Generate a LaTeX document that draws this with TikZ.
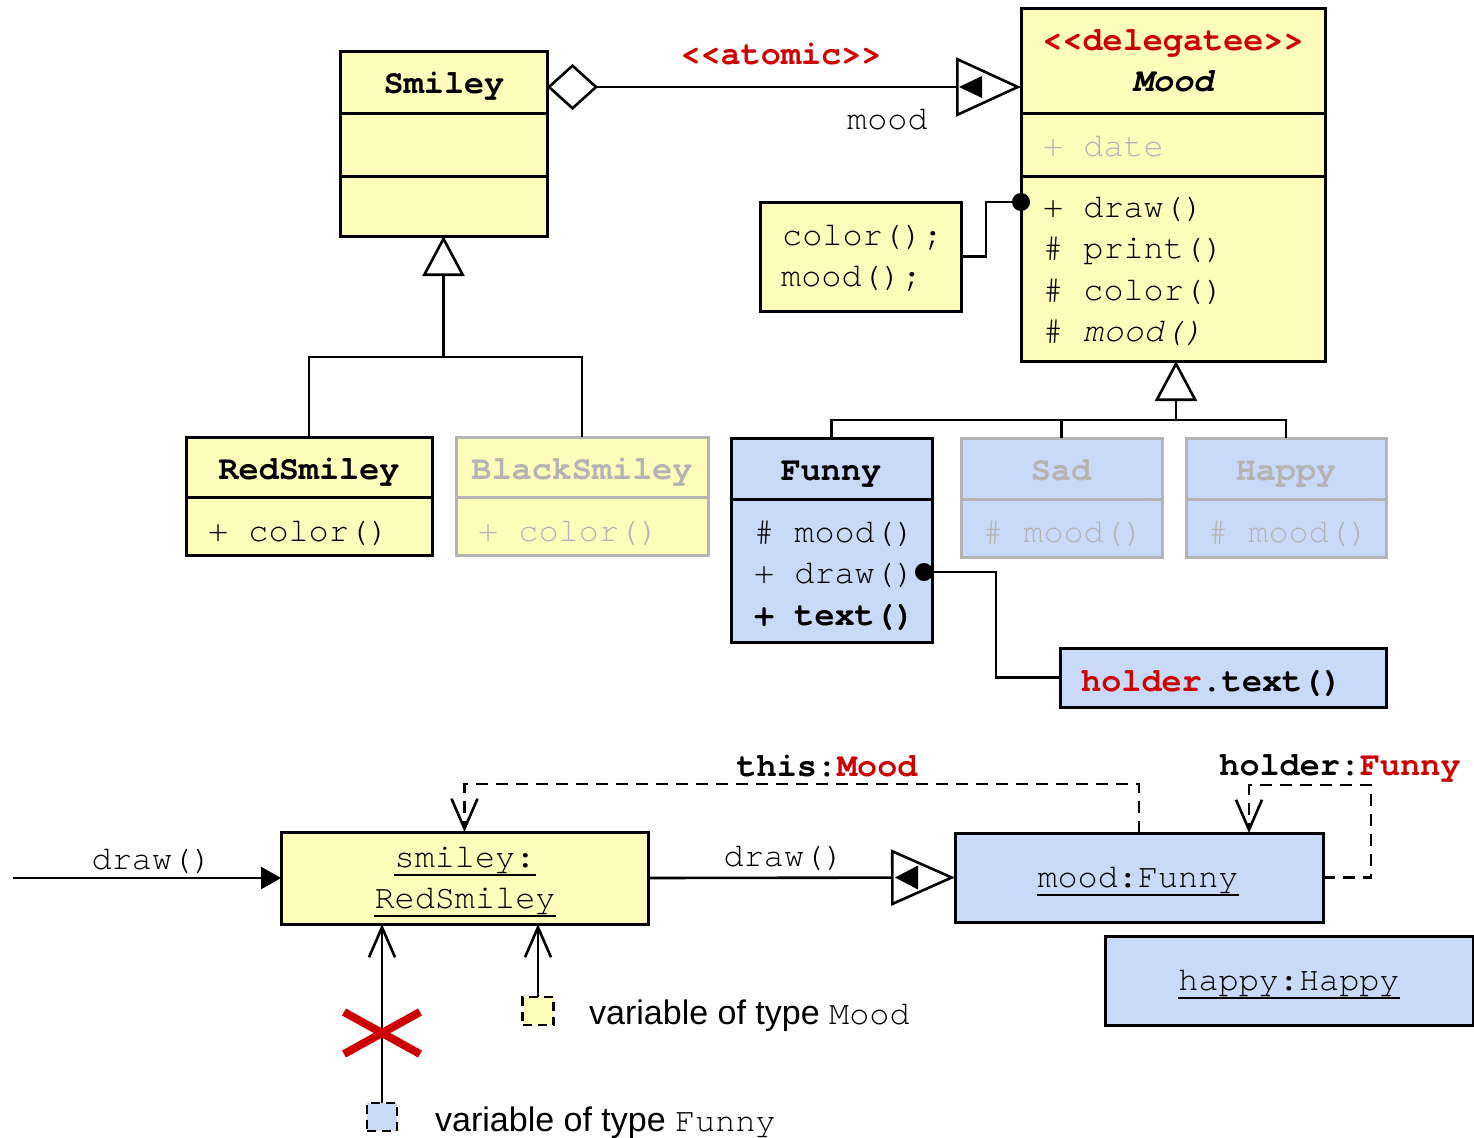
\documentclass[tikz,border=0pt]{standalone}
\usepackage{fontspec}
\setmainfont{Liberation Sans}
\setsansfont{Liberation Sans}
\setmonofont{TeX Gyre Cursor}
\usetikzlibrary{arrows.meta,calc}
\definecolor{ylw}{RGB}{252,252,187}
\definecolor{blu}{RGB}{201,218,248}
\definecolor{gry}{RGB}{180,180,180}
\definecolor{rd}{RGB}{204,0,0}
\tikzset{
  ybox/.style={draw, line width=3pt, fill=ylw, inner sep=0pt, outer sep=0pt, anchor=north west},
  bbox/.style={ybox, fill=blu},
  gybox/.style={ybox, draw=gry},
  gbbox/.style={bbox, draw=gry},
  mono/.style={font=\ttfamily\fontsize{33.5}{40}\selectfont, inner sep=0pt},
  mbold/.style={font=\ttfamily\bfseries\fontsize{33.5}{40}\selectfont, inner sep=0pt},
  sline/.style={line width=3pt},
  conn/.style={line width=2.6pt},
  gen/.style={conn, -{Triangle[fill=white, length=40pt, width=42pt]}},
  openarr/.style={conn, -{Straight Barb[length=30pt, width=26pt]}},
  dep/.style={conn, dash pattern=on 12pt off 8pt, -{Straight Barb[length=30pt, width=26pt]}},
  ul/.style={line width=2pt},
}
\begin{document}
\begin{tikzpicture}[x=1pt,y=-1pt]
\useasboundingbox (0,0) rectangle (1474,1137);

% ---------- Smiley ----------
\node[ybox, minimum width=207pt, minimum height=184pt] (smiley) at (340,52) {};
\draw[sline] ($(smiley.north west)+(0,62)$) -- ($(smiley.north east)+(0,62)$);
\draw[sline] ($(smiley.north west)+(0,124)$) -- ($(smiley.north east)+(0,124)$);
\node[mbold, anchor=base] (smileyT) at (444,94) {Smiley};

% ---------- Mood ----------
\node[ybox, minimum width=304pt, minimum height=352pt] (mood) at (1021,9) {};
\draw[sline] ($(mood.north west)+(0,105)$) -- ($(mood.north east)+(0,105)$);
\draw[sline] ($(mood.north west)+(0,167)$) -- ($(mood.north east)+(0,167)$);
\node[mbold, anchor=base, text=rd] (moodS) at (1173,51) {<{}<delegatee>{}>};
\node[mbold, anchor=base, font=\ttfamily\bfseries\itshape\fontsize{33.5}{40}\selectfont] (moodT) at (1173,92) {Mood};
\node[mono, anchor=base west, text=gry] (moodA) at (1043,157) {+ date};
\node[mono, anchor=base west] (moodM1) at (1043,217) {+ draw()};
\node[mono, anchor=base west] (moodM2) at (1043,258) {\# print()};
\node[mono, anchor=base west] (moodM3) at (1043,300) {\# color()};
\node[mono, anchor=base west] (moodM4) at (1043,341) {\# {\itshape mood()}};

% ---------- aggregation / navigation ----------
\coordinate (aggS) at ($(smiley.north east)+(0,35)$);
\coordinate (aggT) at (mood.west |- aggS);
\draw[conn, {Diamond[fill=white, length=51pt, width=46pt]}-{Triangle[fill=white, length=65pt, width=59pt]}] (aggS) -- (aggT);
\fill ($(aggT)+(-62,0)$) -- ++(23,-11) -- ++(0,22) -- cycle;
\node[mbold, anchor=base, text=rd] (atomic) at (781,65) {<{}<atomic>{}>};
\node[mono, anchor=base west] (roleMood) at (847,130) {mood};

% ---------- note ----------
\node[ybox, minimum width=201pt, minimum height=109pt] (note) at (760,202) {};
\node[mono, anchor=base west] (note1) at (782,245) {color();};
\node[mono, anchor=base west] (note2) at (781,286) {mood();};
\coordinate (dot1) at (1021,202);
\draw[conn] (note.east) -- ++(25,0) |- (dot1);
\fill (dot1) circle (9pt);

% ---------- RedSmiley / BlackSmiley ----------
\node[ybox, minimum width=246pt, minimum height=118pt] (red) at (186,437) {};
\draw[sline] ($(red.north west)+(0,60)$) -- ($(red.north east)+(0,60)$);
\node[mbold, anchor=base] (redT) at (309,479) {RedSmiley};
\node[mono, anchor=base west] (redM) at (208,541) {+ color()};

\node[gybox, minimum width=252pt, minimum height=118pt] (black) at (456,437) {};
\draw[sline, gry] ($(black.north west)+(0,60)$) -- ($(black.north east)+(0,60)$);
\node[mbold, anchor=base, text=gry] (blackT) at (582,479) {BlackSmiley};
\node[mono, anchor=base west, text=gry] (blackM) at (478,541) {+ color()};

\coordinate (j1) at (smiley.south |- 0,357);
\draw[gen] (j1) -- (smiley.south);
\draw[conn] (red.north) |- (j1) -| (black.north);

% ---------- Funny / Sad / Happy ----------
\node[bbox, minimum width=201pt, minimum height=204pt] (funny) at (731,438) {};
\draw[sline] ($(funny.north west)+(0,61)$) -- ($(funny.north east)+(0,61)$);
\node[mbold, anchor=base] (funnyT) at (831,480) {Funny};
\node[mono, anchor=base west] (funnyM1) at (754,542) {\# mood()};
\node[mono, anchor=base west] (funnyM2) at (754,583) {+ draw()};
\node[mbold, anchor=base west] (funnyM3) at (754,625) {+ text()};

\node[gbbox, minimum width=201pt, minimum height=119pt] (sad) at (961,438) {};
\draw[sline, gry] ($(sad.north west)+(0,61)$) -- ($(sad.north east)+(0,61)$);
\node[mbold, anchor=base, text=gry] (sadT) at (1061,480) {Sad};
\node[mono, anchor=base west, text=gry] (sadM) at (983,542) {\# mood()};

\node[gbbox, minimum width=200pt, minimum height=119pt] (happy) at (1186,438) {};
\draw[sline, gry] ($(happy.north west)+(0,61)$) -- ($(happy.north east)+(0,61)$);
\node[mbold, anchor=base, text=gry] (happyT) at (1286,480) {Happy};
\node[mono, anchor=base west, text=gry] (happyM) at (1208,542) {\# mood()};

\coordinate (j2) at (1176,420);
\draw[gen] (j2) -- (1176,361);
\draw[conn] (funny.north) |- (j2) -| (happy.north);
\draw[conn] (sad.north) -- (sad.north |- j2);

% ---------- holder.text() ----------
\node[bbox, minimum width=326pt, minimum height=59pt] (holder) at (1060,648) {};
\node[mbold, anchor=base west] (holderT) at (1081,691) {\textcolor{rd}{holder}.text()};
\coordinate (dot2) at (924,572);
\draw[conn] (dot2) -| ($(holder.west)+(-64,0)$) -- (holder.west);
\fill (dot2) circle (9pt);

% ---------- object diagram ----------
\node[ybox, minimum width=367pt, minimum height=92pt] (sobj) at (281,832) {};
\node[mono, anchor=base] (sobj1) at (465,867) {smiley:};
\draw[ul] ($(sobj1.base west)+(0,8)$) -- ($(sobj1.base east)+(0,8)$);
\node[mono, anchor=base] (sobj2) at (465,908) {RedSmiley};
\draw[ul] ($(sobj2.base west)+(0,8)$) -- ($(sobj2.base east)+(0,8)$);

\node[bbox, minimum width=368pt, minimum height=89pt] (mobj) at (955,833) {};
\node[mono, anchor=base] (mobjT) at (1138,887) {mood:Funny};
\draw[ul] ($(mobjT.base west)+(0,8)$) -- ($(mobjT.base east)+(0,8)$);

\node[bbox, minimum width=368pt, minimum height=89pt] (hobj) at (1105,936) {};
\node[mono, anchor=base] (hobjT) at (1289,990) {happy:Happy};
\draw[ul] ($(hobjT.base west)+(0,8)$) -- ($(hobjT.base east)+(0,8)$);

\coordinate (inS) at (13,878);
\draw[conn, -{Triangle[length=20pt, width=22pt]}] (inS) -- (sobj.west);
\node[mono, anchor=base] (draw1) at (152,869) {draw()};

\draw[conn, -{Triangle[fill=white, length=64pt, width=56pt]}] (sobj.east) -- (mobj.west);
\fill ($(mobj.west)+(-60,0)$) -- ++(23,-12) -- ++(0,24) -- cycle;
\node[mono, anchor=base] (draw2) at (784,866) {draw()};

\draw[dep] (mobj.north) -- ++(0,-49) -| (sobj.north);
\node[mbold, anchor=base] (thisL) at (827,776) {this:\textcolor{rd}{Mood}};
\draw[dep] (mobj.east) -| ($(mobj.north east)+(48,-48)$) -| ($(mobj.north west)+(294,0)$);
\node[mbold, anchor=base] (holderL) at (1340,775) {holder:\textcolor{rd}{Funny}};

% variables
\node[draw, fill=ylw, line width=2.6pt, dash pattern=on 9pt off 6pt, minimum width=31pt, minimum height=28pt, inner sep=0pt, outer sep=0pt] (vy) at (538,1011) {};
\node[draw, fill=blu, line width=2.6pt, dash pattern=on 9pt off 6pt, minimum width=30pt, minimum height=28pt, inner sep=0pt, outer sep=0pt] (vb) at (382,1117) {};
\draw[openarr] (vy.north) -- (vy.north |- sobj.south);
\draw[openarr] (vb.north) -- (vb.north |- sobj.south);
\coordinate (xc) at (382,1033);
\draw[rd, line width=8pt] ($(xc)+(-38,-21)$) -- ($(xc)+(38,21)$);
\draw[rd, line width=8pt] ($(xc)+(-38,21)$) -- ($(xc)+(38,-21)$);
\node[anchor=base west, inner sep=0pt, font=\sffamily\fontsize{34}{40}\selectfont] (lvy) at (589,1024) {variable of type {\ttfamily\fontsize{33.5}{40}\selectfont Mood}};
\node[anchor=base west, inner sep=0pt, font=\sffamily\fontsize{34}{40}\selectfont] (lvb) at (435,1131) {variable of type {\ttfamily\fontsize{33.5}{40}\selectfont Funny}};
\end{tikzpicture}
\end{document}
